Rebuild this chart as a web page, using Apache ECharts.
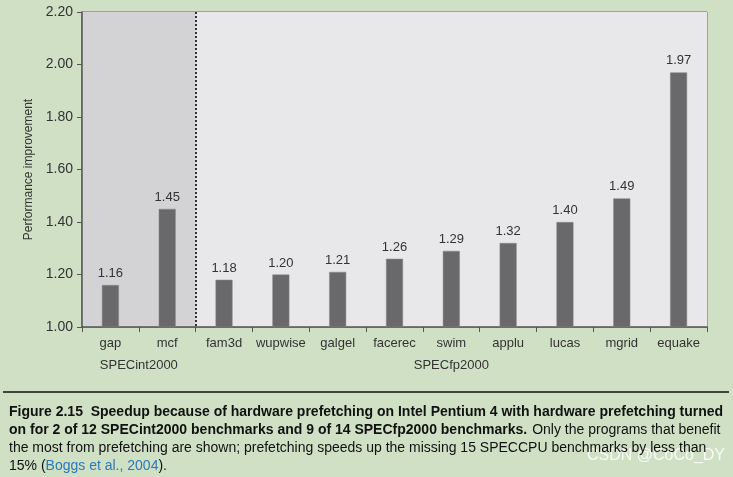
<!DOCTYPE html>
<html>
<head>
<meta charset="utf-8">
<script src="https://cdn.jsdelivr.net/npm/echarts@6/dist/echarts.min.js"></script>
<style>
  html, body { margin: 0; padding: 0; background: #cfe0c4; }
  #chart { width: 733px; height: 477px; }
</style>
</head>
<body>
<div id="chart"></div>
<script>
// benchmarks and speedups
const benchmarks = ['gap', 'mcf', 'fam3d', 'wupwise', 'galgel', 'facerec', 'swim', 'applu', 'lucas', 'mgrid', 'equake']
const speedup = [1.16, 1.45, 1.18, 1.20, 1.21, 1.26, 1.29, 1.32, 1.40, 1.49, 1.97]
const groups = ['SPECint2000', 'SPECfp2000']
const groupSizes = [2, 9]

const intShade = '#d3d3d5'
const fpShade = '#e8e8ea'
// one band colour per category, int group darker
const bandColors = []
groupSizes.forEach((n, g) => {
  for (let i = 0; i < n; i++) bandColors.push(g === 0 ? intShade : fpShade)
})
// dotted separator only on the boundary between the two groups
const sepColors = benchmarks.map((_, i) => (i === groupSizes[0] ? '#333' : 'rgba(0,0,0,0)'))

const font = 'Liberation Sans, Arial, sans-serif'
const capFont = 'Liberation Sans Narrow, Liberation Sans, sans-serif'

const myChart = echarts.init(document.getElementById('chart'))
const options = {
  backgroundColor: '#cfe0c4',
  animation: false,
  grid: {
    left: 82,
    right: 26,
    top: 12,
    bottom: 150,
    show: true,
    borderColor: '#666',
    borderWidth: 1,
    backgroundColor: 'transparent'
  },
  xAxis: {
    type: 'category',
    data: benchmarks,
    axisLine: { lineStyle: { color: '#555', width: 1.5 } },
    axisTick: { show: true, length: 5, interval: 0, lineStyle: { color: '#555' } },
    axisLabel: { color: '#333', fontSize: 13, fontFamily: font, margin: 10, interval: 0 },
    splitArea: { show: true, interval: 0, areaStyle: { color: bandColors } },
    splitLine: { show: true, interval: 0, lineStyle: { color: sepColors, type: [2, 2], width: 2 } }
  },
  yAxis: {
    type: 'value',
    min: 1,
    max: 2.2,
    interval: 0.2,
    name: 'Performance improvement',
    nameLocation: 'middle',
    nameGap: 42,
    nameTextStyle: { color: '#333', fontSize: 12, fontFamily: font },
    axisLine: { show: true, lineStyle: { color: '#555', width: 1.5 } },
    axisTick: { show: true, length: 5, lineStyle: { color: '#555' } },
    axisLabel: {
      color: '#333',
      fontSize: 14,
      fontFamily: font,
      margin: 9,
      formatter: v => v.toFixed(2)
    },
    splitLine: { show: false }
  },
  series: [
    {
      type: 'bar',
      data: speedup,
      barWidth: 17,
      itemStyle: { color: '#69696b', borderColor: '#8a8a8c', borderWidth: 0.5 },
      label: {
        show: true,
        position: 'top',
        distance: 5,
        color: '#333',
        fontSize: 13,
        fontFamily: font,
        formatter: p => p.value.toFixed(2)
      }
    }
  ],
  title: {
    left: 4,
    top: 398,
    text:
      '{b|Figure 2.15  Speedup because of hardware prefetching on Intel Pentium 4 with hardware prefetching turned}\n' +
      '{b|on for 2 of 12 SPECint2000 benchmarks and 9 of 14 SPECfp2000 benchmarks.} {n|Only the programs that benefit}\n' +
      '{n|the most from prefetching are shown; prefetching speeds up the missing 15 SPECCPU benchmarks by less than}\n' +
      '{n|15% (}{l|Boggs et al., 2004}{n|).}',
    textStyle: {
      fontWeight: 'normal',
      rich: {
        b: { fontFamily: capFont, fontWeight: 'bold', fontSize: 14, color: '#111', lineHeight: 18 },
        n: { fontFamily: capFont, fontWeight: 'normal', fontSize: 14, color: '#111', lineHeight: 18 },
        l: { fontFamily: capFont, fontWeight: 'normal', fontSize: 14, color: '#2a7ab8', lineHeight: 18 }
      }
    }
  }
}
myChart.setOption(options)

// group names under the category labels, centred on each group
let start = 0
const graphics = [
  { type: 'line', shape: { x1: 3, y1: 392, x2: 729, y2: 392 }, style: { stroke: '#111', lineWidth: 1.5 } },
  {
    type: 'text', right: 8, top: 448,
    style: { text: 'CSDN @CoCo_DY', fill: 'rgba(255,255,255,0.85)', font: '16px ' + font }
  }
]
groups.forEach((name, g) => {
  const first = myChart.convertToPixel({ xAxisIndex: 0 }, benchmarks[start])
  const last = myChart.convertToPixel({ xAxisIndex: 0 }, benchmarks[start + groupSizes[g] - 1])
  graphics.push({
    type: 'text',
    x: (first + last) / 2,
    y: 365,
    style: { text: name, fill: '#333', font: '13px ' + font, align: 'center', verticalAlign: 'middle' }
  })
  start += groupSizes[g]
})
myChart.setOption({ graphic: graphics })
</script>
</body>
</html>
